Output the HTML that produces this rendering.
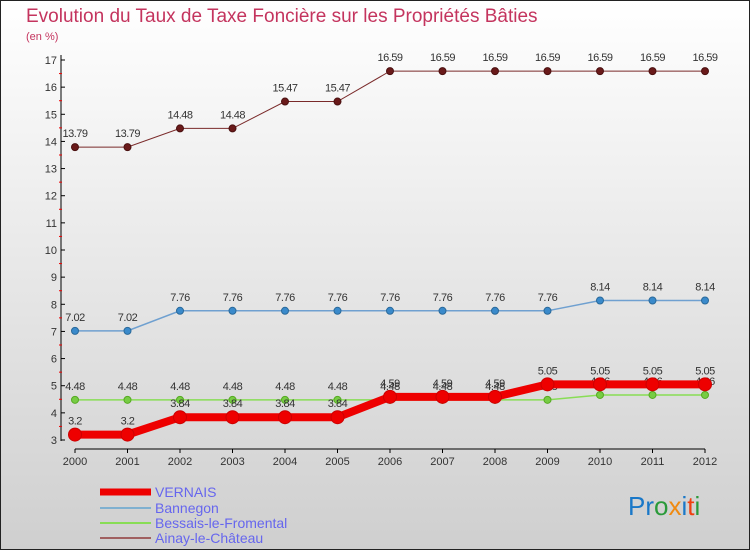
<!DOCTYPE html>
<html><head><meta charset="utf-8"><style>
html,body{margin:0;padding:0}
body{width:750px;height:550px;overflow:hidden;font-family:"Liberation Sans",sans-serif}
#c{position:absolute;left:0;top:0;width:748px;height:548px;border:1px solid #222;background:linear-gradient(#ffffff,#cfcfcf)}
</style></head><body>
<div id="c"></div>
<svg id="s" width="750" height="550" style="position:absolute;left:0;top:0">
<text x="26" y="22" font-size="19" fill="#c4345e">Evolution du Taux de Taxe Foncière sur les Propriétés Bâties</text>
<text x="26" y="40" font-size="11" fill="#c4345e">(en %)</text>
<g id="g"></g>
<text x="628" y="515" font-size="26" font-family="Liberation Sans"><tspan fill="#1a78c8">Pr</tspan><tspan fill="#2a9a3a">o</tspan><tspan fill="#f08a10">x</tspan><tspan fill="#1a78c8">i</tspan><tspan fill="#f04010">t</tspan><tspan fill="#2a9a3a">i</tspan></text>
</svg>
<script>
const years=[2000,2001,2002,2003,2004,2005,2006,2007,2008,2009,2010,2011,2012];
const vernais=[3.2,3.2,3.84,3.84,3.84,3.84,4.59,4.59,4.59,5.05,5.05,5.05,5.05];
const bannegon=[7.02,7.02,7.76,7.76,7.76,7.76,7.76,7.76,7.76,7.76,8.14,8.14,8.14];
const bessais=[4.48,4.48,4.48,4.48,4.48,4.48,4.48,4.48,4.48,4.48,4.66,4.66,4.66];
const ainay=[13.79,13.79,14.48,14.48,15.47,15.47,16.59,16.59,16.59,16.59,16.59,16.59,16.59];
const yTicks=[3,4,5,6,7,8,9,10,11,12,13,14,15,16,17];
const NS='http://www.w3.org/2000/svg';
const g=document.getElementById('g');
const X=i=>75+i*52.5, Y=v=>440-(v-3)*(380/14);
function el(t,a){const e=document.createElementNS(NS,t);for(const k in a)e.setAttribute(k,a[k]);g.appendChild(e);return e;}
let ax=el('line',{x1:61,y1:55,x2:61,y2:441,stroke:'#000','stroke-width':1});


let xa=el('line',{x1:75,y1:449,x2:705,y2:449,stroke:'#000','stroke-width':1});


yTicks.forEach(v=>{
 el('line',{x1:61,y1:Y(v),x2:65,y2:Y(v),stroke:'#000'});
 if(v<17)el('line',{x1:59,y1:Y(v+0.5),x2:62,y2:Y(v+0.5),stroke:'#e00'});
 let t=el('text',{x:57,y:Y(v)+4,'font-size':11,fill:'#333','text-anchor':'end'});t.textContent=v;
 
 
});
years.forEach((y,i)=>{
 el('line',{x1:X(i),y1:449,x2:X(i),y2:453,stroke:'#000'});
 let t=el('text',{x:X(i),y:465,'font-size':11,fill:'#333','text-anchor':'middle'});t.textContent=y;
 
 
});
function series(d,name,col,w,r,dot,stroke){
 let p=el('polyline',{points:d.map((v,i)=>X(i)+','+Y(v)).join(' '),fill:'none',stroke:col,'stroke-width':w});
 
 
 d.forEach((v,i)=>{
  let c=el('circle',{cx:X(i),cy:Y(v),r:r,fill:dot,stroke:stroke,'stroke-width':1});
  
  
  let t=el('text',{x:X(i),y:Y(v)-10,'font-size':11,fill:'#333','text-anchor':'middle','letter-spacing':'-0.5'});t.textContent=v;
  
  
 });
}
series(ainay,'ainay','#7a2a2a',1,3.5,'#6a1a1a','#4a1010');
series(bannegon,'bannegon','#6fa0d0',1.5,3.5,'#3a8acb','#2a6a9b');
series(bessais,'bessais','#88dd55',1.5,3.5,'#77cc44','#55aa22');
series(vernais,'vernais','#ee0000',8,6.5,'#ee0000','#cc0000');
const leg=[['VERNAIS','#ee0000',7,492],['Bannegon','#7fb0d0',2,508],['Bessais-le-Fromental','#88dd55',2,523],['Ainay-le-Château','#a06060',2,538]];
leg.forEach(l=>{
 let ln=el('line',{x1:100,y1:l[3],x2:151,y2:l[3],stroke:l[1],'stroke-width':l[2]});
 
 
 let t=el('text',{x:155,y:l[3]+5,'font-size':14,fill:'#6666ee'});t.textContent=l[0];
 
 
});
</script>
</body></html>
